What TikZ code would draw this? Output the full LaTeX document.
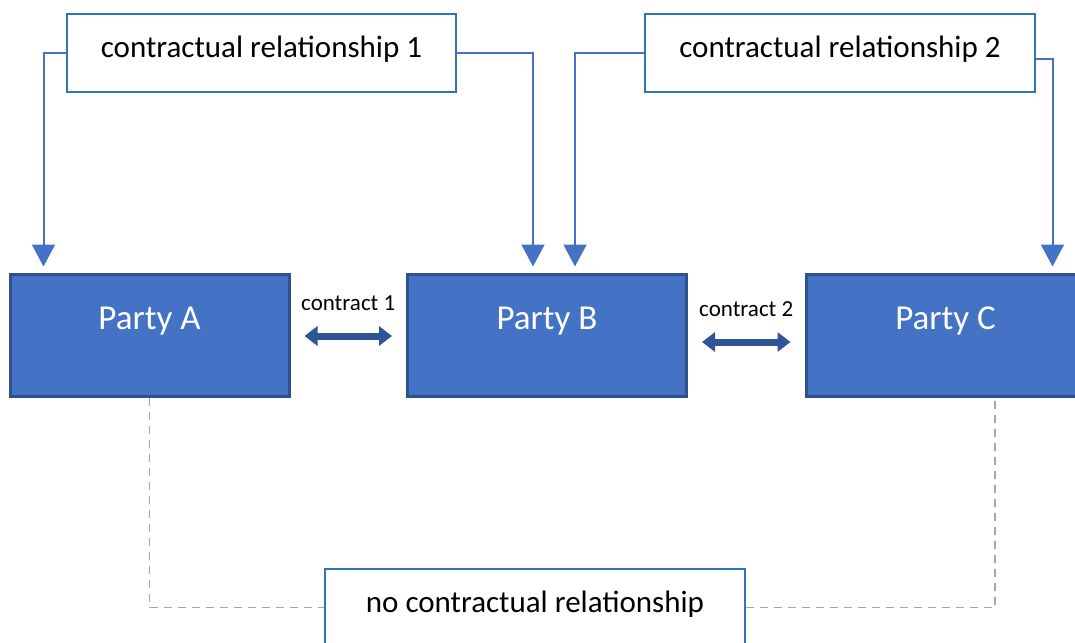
\documentclass[tikz,border=0pt]{standalone}
\usepackage{fontspec}
\setmainfont{Carlito}
\usetikzlibrary{arrows.meta}
\definecolor{partyfill}{HTML}{4472C4}
\definecolor{partyedge}{HTML}{2F528F}
\definecolor{relblue}{HTML}{2E75B6}
\definecolor{dealblue}{HTML}{2F5597}
\definecolor{nogray}{HTML}{A6A6A6}
\begin{document}
\begin{tikzpicture}[
                    x=0.5pt, y=-0.5pt, % one unit is one pixel of the sketch
                    every node/.style={inner sep=0pt},
                    party/.style={draw=partyedge, line width=1.5pt, fill=partyfill, text=white,
                        font=\fontsize{17.5}{20}\selectfont, minimum width=139.5pt,
                        text height=27.5pt, text depth=33.5pt},
                    relbox/.style={draw=relblue, line width=0.75pt, fill=white,
                        font=\fontsize{15.5}{18}\selectfont, minimum width=194.5pt,
                        text height=22pt, text depth=17pt},
                    link/.style={draw=partyfill, line width=1pt, -{Triangle[width=11.5pt,length=11pt]}},
                    dbl/.style={draw=dealblue, line width=3.5pt, {Triangle[width=9.5pt,length=6.5pt]}-{Triangle[width=9.5pt,length=6.5pt]},
                        shorten <=7pt, shorten >=7pt},
                    deal/.style={above=11pt, font=\fontsize{11.5}{13}\selectfont},
                    nolink/.style={draw=nogray, line width=0.8pt, dash pattern=on 4pt off 3pt}
                ]
                
                \clip (0,0) rectangle (1075,642);
                \node[relbox] (cr1) at (261.5,53) {contractual relationship 1};
                \node[relbox, minimum width=195pt] (cr2) at (840,53) {contractual relationship 2};
                \node[party] (pa) at (149.5,335) {Party A};
                \node[party] (pb) at (547,335) {Party B};
                \node[party] (pc) at (945.5,335) {Party C};
                \node[relbox, minimum width=210pt, text height=21.5pt] (nc) at (535,607.5) {no contractual relationship};
                
                % relationships from above
                \draw[link] (cr1.west) -| ([xshift=17.5pt,yshift=3pt]pa.north west);
                \draw[link] (cr1.east) -| ([xshift=63.5pt,yshift=3pt]pb.north west);
                \draw[link] (cr2.west) -| ([xshift=84.5pt,yshift=3pt]pb.north west);
                \draw[link] ([yshift=-3pt]cr2.east) -| ([xshift=124pt,yshift=3pt]pc.north west);
                
                % contracts between neighbours
                \draw[dbl] ([yshift=-0.5pt]pa.east) -- node[deal] {contract 1} ([yshift=-0.5pt]pb.west);
                \draw[dbl] ([yshift=-3.5pt]pb.east) -- node[deal] {contract 2} ([yshift=-3.5pt]pc.west);
                
                % A and C not bound
                \draw[nolink] (pa.south) |- (nc.west);
                \draw[nolink] (nc.east) -| ([xshift=24.75pt]pc.south);
            \end{tikzpicture}
\end{document}
